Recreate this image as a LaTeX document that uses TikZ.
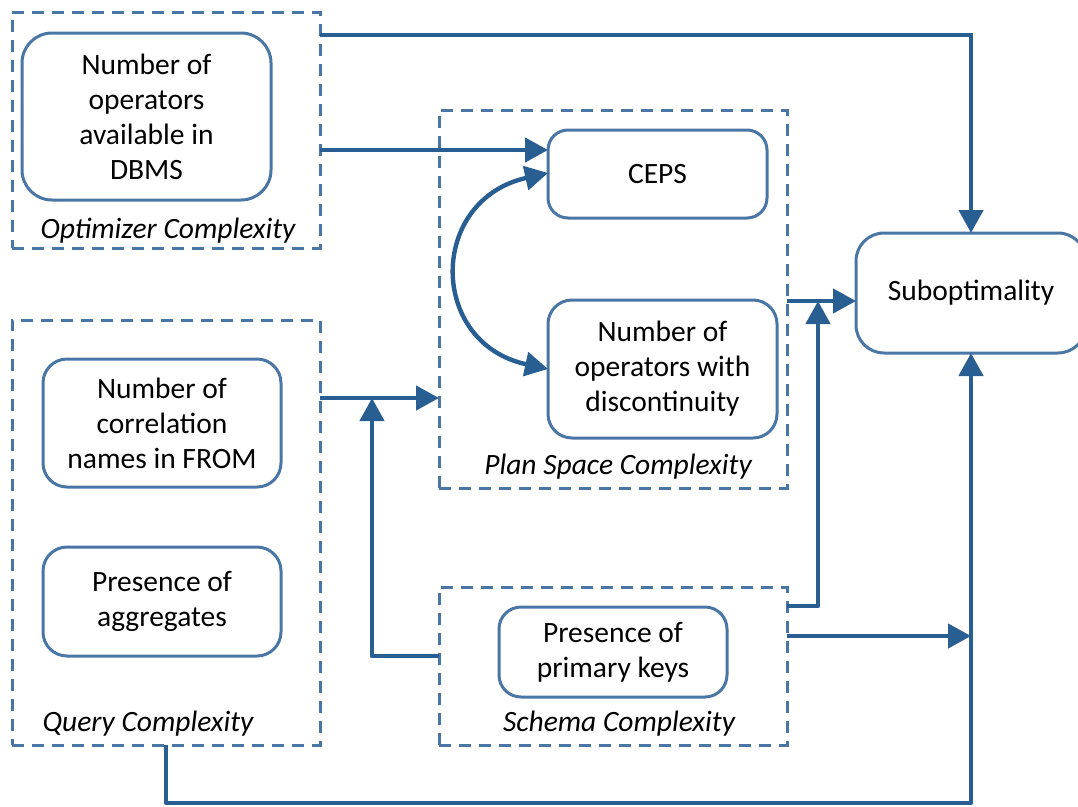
\documentclass[tikz,border=0pt]{standalone}
\usepackage{fontspec}
\setmainfont{Carlito}
\usetikzlibrary{arrows.meta}
\definecolor{flowblue}{RGB}{41,94,146}
\definecolor{edgeblue}{RGB}{74,118,166}

\begin{document}
\begin{tikzpicture}[x=1pt,y=-1pt,
  every node/.style={font=\fontsize{29.5}{35}\selectfont, align=center, inner sep=0pt, outer sep=0pt},
  group/.style={draw=edgeblue, line width=3pt, dash pattern=on 12pt off 8pt, rectangle},
  item/.style={draw=edgeblue, line width=3pt, rectangle, rounded corners=#1},
  item/.default=24pt,
  caption/.style={font=\fontsize{29.5}{35}\selectfont\itshape},
  flow/.style={draw=flowblue, line width=4.4pt, -{Triangle[length=23pt,width=24pt]}},
  biflow/.style={draw=flowblue, line width=4.4pt, {Triangle[length=23pt,width=24pt]}-{Triangle[length=23pt,width=24pt]}},
]
\useasboundingbox (0,0) rectangle (1078,806);

% dashed groups
\node[group, minimum width=308pt, minimum height=236pt] (optg)    at (166,130) {};
\node[group, minimum width=348pt, minimum height=378pt] (planG)   at (613,299) {};
\node[group, minimum width=308pt, minimum height=425pt] (queryG)  at (166,532.5) {};
\node[group, minimum width=348pt, minimum height=158pt] (schemaG) at (613,666) {};

% group captions
\node[caption] (optcap)    at (168,231) {Optimizer Complexity};
\node[caption] (plancap)   at (618,467) {Plan Space Complexity};
\node[caption] (querycap)  at (148,724) {Query Complexity};
\node[caption] (schemacap) at (619,724) {Schema Complexity};

% factor boxes
\node[item=30pt, minimum width=249pt, minimum height=167pt] (ops)  at (146.5,116.5) {Number of\\operators\\available in\\DBMS};
\node[item=20pt, minimum width=219pt, minimum height=88pt]  (ceps) at (657.5,174) {CEPS};
\node[item=24pt, minimum width=229pt, minimum height=138pt] (disc) at (662.5,369) {Number of\\operators with\\discontinuity};
\node[item=24pt, minimum width=238pt, minimum height=128pt] (corr) at (162,423) {Number of\\correlation\\names in FROM};
\node[item=24pt, minimum width=238pt, minimum height=109pt] (aggr) at (162,601.5) {Presence of\\aggregates};
\node[item=22pt, minimum width=228pt, minimum height=90pt]  (keys) at (613,652) {Presence of\\primary keys};
\node[item=28pt, minimum width=230pt, minimum height=120pt] (sub)  at (971,293) {Suboptimality};

% routing levels and joints
\coordinate (ytop)  at (0,35);
\coordinate (yops)  at (0,150);
\coordinate (yplan) at (0,301);
\coordinate (yqry)  at (0,398);
\coordinate (ysch1) at (0,606);
\coordinate (ysch2) at (0,636);
\coordinate (qjoin) at (372,398);
\coordinate (sjoin) at (372,656);
\coordinate (pjoin) at (818,301);
\coordinate (bjoin) at (971,636);
\coordinate (ybot)  at (0,803);

% connectors
\draw[flow] (optg.east |- ytop) -| (sub.north);
\draw[flow] (optg.east |- yops) -- (ceps.west |- yops);
\draw[biflow] ([yshift=1pt]ceps.west) .. controls (428,200) and (428,343) .. (disc.west);
\draw[flow] (queryG.east |- yqry) -- (planG.west |- yqry);
\draw[flow, line join=round] (schemaG.west |- sjoin) -| (qjoin);
\draw[flow] (planG.east |- yplan) -- (sub.west |- yplan);
\draw[flow, line join=round] (schemaG.east |- ysch1) -| (pjoin);
\draw[flow] (schemaG.east |- ysch2) -- (bjoin);
\draw[flow, line join=round] (queryG.south) -- (queryG.south |- ybot) -| (sub.south);
\end{tikzpicture}
\end{document}
